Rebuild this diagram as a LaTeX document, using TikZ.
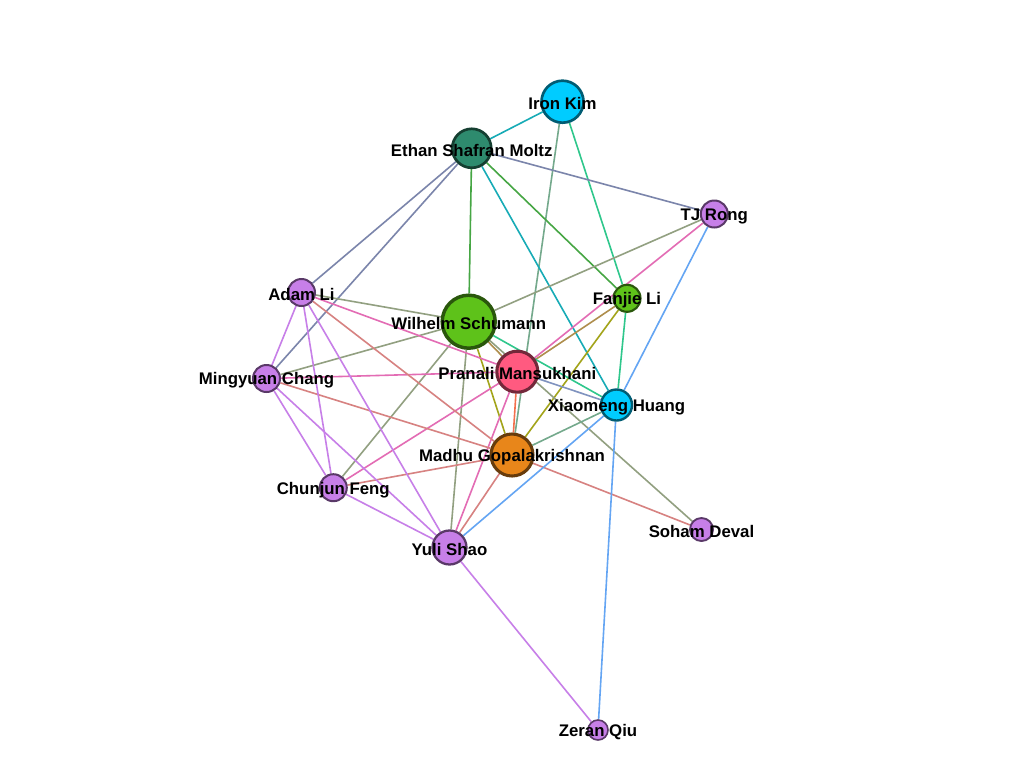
\documentclass[tikz,border=0pt]{standalone}
\usepackage{fontspec}
\setmainfont{Liberation Sans}
\usetikzlibrary{backgrounds}
\definecolor{cPur}{RGB}{199,127,232}
\definecolor{cGrn}{RGB}{94,194,26}
\definecolor{cPnk}{RGB}{255,90,128}
\definecolor{cCyn}{RGB}{0,204,255}
\definecolor{cSea}{RGB}{46,139,110}
\definecolor{cOrg}{RGB}{232,134,26}
\tikzset{
  vn/.style n args={3}{circle, inner sep=0pt, minimum size=#2*1.5pt, fill=#1, draw=#1!45!black, line width=#3},
  ed/.style 2 args={draw=#1!50!#2, line width=1.2pt},
  lab/.style={inner sep=0pt, yshift=-1.5pt, text=black, font=\fontsize{12.6pt}{14pt}\selectfont\bfseries}
}
\begin{document}
\begin{tikzpicture}[x=0.75pt,y=-0.75pt]
\useasboundingbox (0,0) rectangle (1024,768);
% nodes
\node[vn={cCyn}{21}{2pt}] (iron) at (562.5,101.7) {};
\node[vn={cSea}{19.5}{2pt}] (ethan) at (471.7,148.3) {};
\node[vn={cPur}{13.5}{1.5pt}] (tj) at (714.3,214) {};
\node[vn={cGrn}{13.5}{1.6pt}] (fanjie) at (627,298.3) {};
\node[vn={cGrn}{26.5}{2.6pt}] (wilhelm) at (468.7,321.7) {};
\node[vn={cPnk}{20.5}{2.3pt}] (pranali) at (517.3,371.7) {};
\node[vn={cCyn}{15.5}{1.8pt}] (xiao) at (616.5,405) {};
\node[vn={cOrg}{21}{2.3pt}] (madhu) at (512,455) {};
\node[vn={cPur}{13.5}{1.5pt}] (adam) at (301.5,292.5) {};
\node[vn={cPur}{13.5}{1.5pt}] (ming) at (266.5,378.5) {};
\node[vn={cPur}{13.5}{1.5pt}] (chun) at (333.3,487.7) {};
\node[vn={cPur}{17}{1.7pt}] (yuli) at (449.5,547.5) {};
\node[vn={cPur}{11.5}{1.4pt}] (soham) at (701.5,529.5) {};
\node[vn={cPur}{10}{1.2pt}] (zeran) at (598,730) {};
% edges
\begin{pgfonlayer}{background}
\fill[white] (0,0) rectangle (1024,768);
\draw[ed={cCyn}{cSea}] (iron) -- (ethan);
\draw[ed={cCyn}{cOrg}] (iron) -- (madhu);
\draw[ed={cCyn}{cGrn}] (iron) -- (fanjie);
\draw[ed={cSea}{cPur}] (ethan) -- (tj);
\draw[ed={cSea}{cPur}] (ethan) -- (adam);
\draw[ed={cSea}{cPur}] (ethan) -- (ming);
\draw[ed={cSea}{cGrn}] (ethan) -- (wilhelm);
\draw[ed={cSea}{cGrn}] (ethan) -- (fanjie);
\draw[ed={cSea}{cCyn}] (ethan) -- (xiao);
\draw[ed={cPur}{cGrn}] (tj) -- (wilhelm);
\draw[ed={cPur}{cPnk}] (tj) -- (pranali);
\draw[ed={cPur}{cCyn}] (tj) -- (xiao);
\draw[ed={cGrn}{cPnk}] (fanjie) -- (pranali);
\draw[ed={cGrn}{cOrg}] (fanjie) -- (madhu);
\draw[ed={cGrn}{cCyn}] (fanjie) -- (xiao);
\draw[ed={cGrn}{cPur}] (wilhelm) -- (adam);
\draw[ed={cGrn}{cPur}] (wilhelm) -- (ming);
\draw[ed={cGrn}{cPur}] (wilhelm) -- (chun);
\draw[ed={cGrn}{cPur}] (wilhelm) -- (yuli);
\draw[ed={cGrn}{cPnk}] (wilhelm) -- (pranali);
\draw[ed={cGrn}{cOrg}] (wilhelm) -- (madhu);
\draw[ed={cGrn}{cCyn}] (wilhelm) -- (xiao);
\draw[ed={cGrn}{cPur}] (wilhelm) -- (soham);
\draw[ed={cPnk}{cPur}] (pranali) -- (adam);
\draw[ed={cPnk}{cPur}] (pranali) -- (ming);
\draw[ed={cPnk}{cPur}] (pranali) -- (chun);
\draw[ed={cPnk}{cPur}] (pranali) -- (yuli);
\draw[ed={cPnk}{cOrg}] (pranali) -- (madhu);
\draw[ed={cPnk}{cCyn}] (pranali) -- (xiao);
\draw[ed={cOrg}{cCyn}] (madhu) -- (xiao);
\draw[ed={cOrg}{cPur}] (madhu) -- (adam);
\draw[ed={cOrg}{cPur}] (madhu) -- (ming);
\draw[ed={cOrg}{cPur}] (madhu) -- (chun);
\draw[ed={cOrg}{cPur}] (madhu) -- (yuli);
\draw[ed={cOrg}{cPur}] (madhu) -- (soham);
\draw[ed={cPur}{cPur}] (adam) -- (ming);
\draw[ed={cPur}{cPur}] (adam) -- (chun);
\draw[ed={cPur}{cPur}] (adam) -- (yuli);
\draw[ed={cPur}{cPur}] (ming) -- (chun);
\draw[ed={cPur}{cPur}] (ming) -- (yuli);
\draw[ed={cPur}{cPur}] (chun) -- (yuli);
\draw[ed={cPur}{cCyn}] (yuli) -- (xiao);
\draw[ed={cPur}{cPur}] (yuli) -- (zeran);
\draw[ed={cCyn}{cPur}] (xiao) -- (zeran);
\end{pgfonlayer}
% labels
\node[lab] (Liron) at (iron) {Iron Kim};
\node[lab] (Lethan) at (ethan) {Ethan Shafran Moltz};
\node[lab] (Ltj) at (tj) {TJ Rong};
\node[lab] (Lfanjie) at (fanjie) {Fanjie Li};
\node[lab] (Lwilhelm) at (wilhelm) {Wilhelm Schumann};
\node[lab] (Lpranali) at (pranali) {Pranali Mansukhani};
\node[lab] (Lxiao) at (xiao) {Xiaomeng Huang};
\node[lab] (Lmadhu) at (madhu) {Madhu Gopalakrishnan};
\node[lab] (Ladam) at (adam) {Adam Li};
\node[lab] (Lming) at (ming) {Mingyuan Chang};
\node[lab] (Lchun) at (chun) {Chunjun Feng};
\node[lab] (Lyuli) at (yuli) {Yuli Shao};
\node[lab] (Lsoham) at (soham) {Soham Deval};
\node[lab] (Lzeran) at (zeran) {Zeran Qiu};
\end{tikzpicture}
\end{document}
